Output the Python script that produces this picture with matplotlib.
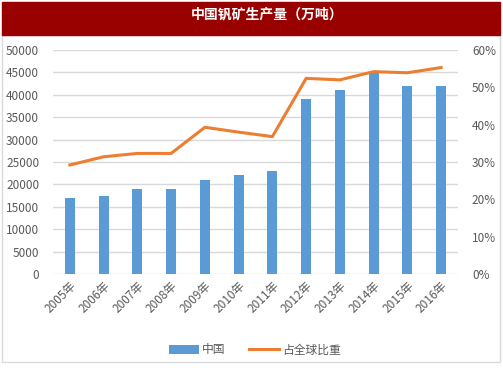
import matplotlib
matplotlib.use('Agg')
import matplotlib.pyplot as plt
from matplotlib.patches import Rectangle

plt.rcParams['font.family'] = ['Noto Sans CJK SC', 'DejaVu Sans']

# data
years = ['2005年', '2006年', '2007年', '2008年', '2009年', '2010年',
         '2011年', '2012年', '2013年', '2014年', '2015年', '2016年']
china_output = [17000, 17500, 19000, 19000, 21000, 22000,
                23000, 39000, 41000, 45000, 42000, 42000]
world_share = [29.2, 31.4, 32.3, 32.3, 39.3, 38.0,
               36.8, 52.4, 52.0, 54.2, 53.9, 55.3]

bar_color = '#5B9BD5'
line_color = '#ED7D31'
text_color = '#595959'
grid_color = '#D9D9D9'

W, H = 503, 378
fig = plt.figure(figsize=(W / 100, H / 100), dpi=100)

# outer border and title bar
fig.patches.append(Rectangle((2 / W, 1 - 362 / H), 498 / W, 327 / H,
                             transform=fig.transFigure, fill=False,
                             edgecolor='#D9D9D9', linewidth=1))
fig.patches.append(Rectangle((2 / W, 1 - 35 / H), 498 / W, 33 / H,
                             transform=fig.transFigure, color='#990000'))
fig.text(267 / W, 1 - 14 / H, '中国钒矿生产量（万吨）', color='white',
         fontsize=10, fontweight='bold', ha='center', va='center')

ax = fig.add_axes([53 / W, 1 - 274 / H, 405 / W, 224 / H])
x = range(len(years))
bars = ax.bar(x, china_output, width=0.3, color=bar_color, label='中国', zorder=2)
ax.set_ylim(0, 50000)
ax.set_yticks(range(0, 50001, 5000))
ax.set_xlim(-0.5, len(years) - 0.5)
ax.set_xticks(list(x))
ax.set_xticklabels(years, rotation=45, ha='right', rotation_mode='anchor')
ax.yaxis.grid(True, color=grid_color, linewidth=1, zorder=0)
ax.set_axisbelow(True)
for s in ax.spines.values():
    s.set_visible(False)
ax.tick_params(axis='both', length=0, colors=text_color, labelsize=8.5)
ax.tick_params(axis='y', pad=10)
ax.tick_params(axis='x', pad=4)

ax2 = ax.twinx()
line, = ax2.plot(x, world_share, color=line_color, linewidth=2.2, label='占全球比重')
ax2.set_ylim(0, 60)
ax2.set_yticks(range(0, 61, 10))
ax2.set_yticklabels([f'{v}%' for v in range(0, 61, 10)])
for s in ax2.spines.values():
    s.set_visible(False)
ax2.tick_params(axis='y', length=0, colors=text_color, labelsize=8.5, pad=10)

fig.legend([bars, line], ['中国', '占全球比重'], loc='center',
           bbox_to_anchor=(255 / W, 1 - 350 / H), ncol=2, frameon=False,
           fontsize=8.5, labelcolor=text_color, handlelength=2.5,
           columnspacing=2, handletextpad=0.3)

fig.savefig('out.png', dpi=100)
